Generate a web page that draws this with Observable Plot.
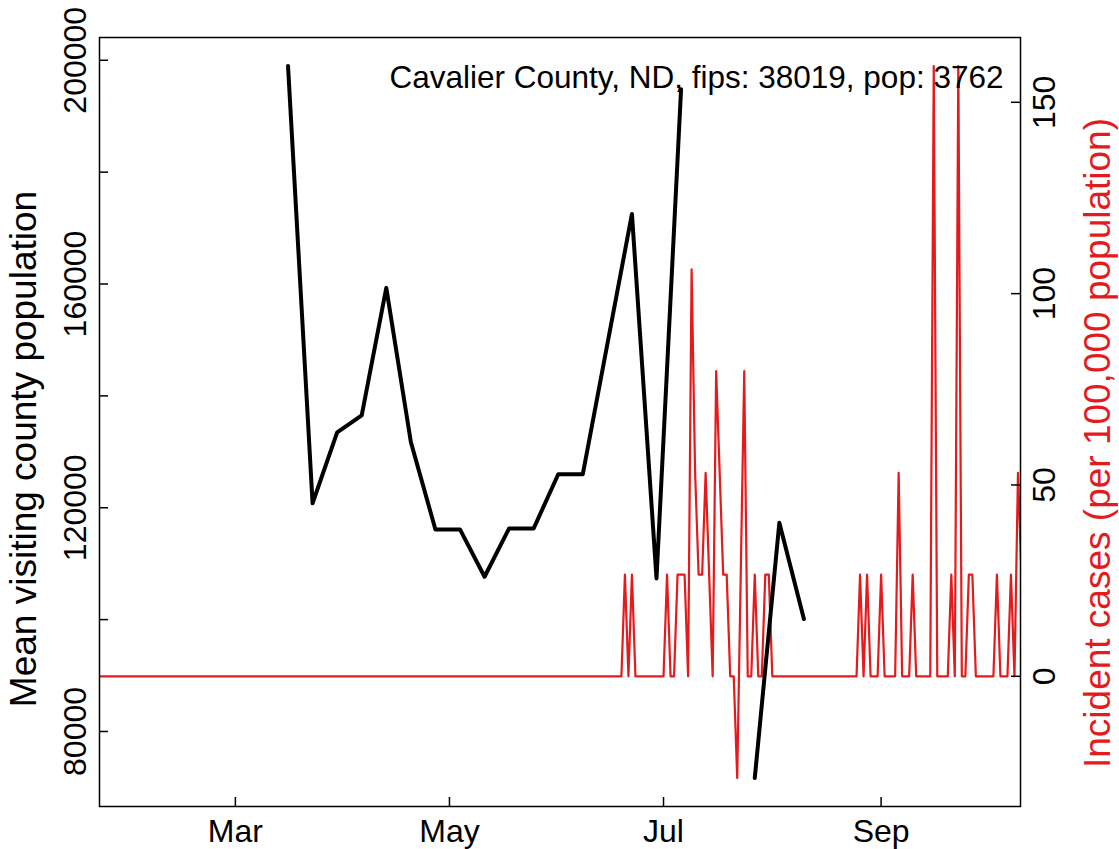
<!DOCTYPE html>
<html><head><meta charset="utf-8">
<script src="https://cdn.jsdelivr.net/npm/d3@7"></script>
<script src="https://cdn.jsdelivr.net/npm/@observablehq/plot@0.6"></script>
<style>
html,body{margin:0;padding:0;background:#fff;overflow:hidden}
#chart{position:relative;width:1119px;height:849px}
#chart svg{position:absolute;left:0;top:0}
</style></head><body><div id="chart"></div>
<script>
// ---- data ----
const titleText = "Cavalier County, ND, fips: 38019, pop: 3762";
const leftLabel = "Mean visiting county population";
const rightLabel = "Incident cases (per 100,000 population)";

// x range of the plot (padded 4% like R)
const xLimits = ["2020-02-01","2020-10-01"];

// weekly mean visiting county population (black); null = missing
const visitDates = ["2020-03-16","2020-03-23","2020-03-30","2020-04-06","2020-04-13","2020-04-20","2020-04-27",
  "2020-05-04","2020-05-11","2020-05-18","2020-05-25","2020-06-01","2020-06-08","2020-06-22","2020-06-29",
  "2020-07-06","2020-07-13","2020-07-20","2020-07-27","2020-08-03","2020-08-10"];
const visitValues = [198980,120800,133480,136520,159310,131760,116120,
  116120,107660,116300,116300,125990,125990,172520,107370,
  194820,null,null,71680,117300,100110];

// daily incident cases per 100,000 (red), starting 2020-01-22
const caseStart = "2020-01-22";
const casesJan = [0,0,0,0,0,0,0,0,0,0];
const casesFeb = [0,0,0,0,0,0,0,0,0,0,0,0,0,0,0,0,0,0,0,0,0,0,0,0,0,0,0,0,0];
const casesMar = [0,0,0,0,0,0,0,0,0,0,0,0,0,0,0,0,0,0,0,0,0,0,0,0,0,0,0,0,0,0,0];
const casesApr = [0,0,0,0,0,0,0,0,0,0,0,0,0,0,0,0,0,0,0,0,0,0,0,0,0,0,0,0,0,0];
const casesMay = [0,0,0,0,0,0,0,0,0,0,0,0,0,0,0,0,0,0,0,0,0,0,0,0,0,0,0,0,0,0,0];
const casesJun = [0,0,0,0,0,0,0,0,0,0,0,0,0,0,0,0,0,0,0,26.58,0,26.58,0,0,0,0,0,0,0,0];
const casesJul = [0,26.58,0,0,26.58,26.58,26.58,0,106.33,53.16,
  26.58,26.58,53.16,26.58,0,79.74,53.16,26.58,26.58,0,
  0,-26.58,26.58,79.74,0,0,26.58,0,0,26.58,
  26.58];
const casesAug = [0,0,0,0,0,0,0,0,0,0,0,0,0,0,0,0,0,0,0,0,0,0,0,0,0,26.58,0,26.58,0,0,0];
const casesSep = [26.58,0,0,0,0,53.16,0,0,0,26.58,
  0,0,0,0,0,159.49,0,0,0,0,
  26.58,0,159.49,0,0,26.58,26.58,0,0,0];
const casesOct = [0,0,0,26.58,0,0,0,26.58,0,53.16,26.58];

const leftTicks = [80000,100000,120000,140000,160000,180000,200000];
const leftTickLabels = [80000,120000,160000,200000];
const rightTicks = [0,50,100,150];
const xTickDates = ["2020-03-01","2020-05-01","2020-07-01","2020-09-01"];

// ---- build tables ----
const visits = visitDates.map((d,i)=>({date:new Date(d), value: visitValues[i]==null?NaN:visitValues[i]}));
const caseValues = [].concat(casesJan,casesFeb,casesMar,casesApr,casesMay,casesJun,casesJul,casesAug,casesSep,casesOct);
const start = new Date(caseStart);
const cases = caseValues.map((v,i)=>({date:d3.utcDay.offset(start,i), value:v}));
const xTicks = xTickDates.map(d=>new Date(d));

function padR(ext){const r=ext[1]-ext[0];return [ext[0]-0.04*r, ext[1]+0.04*r];}
const xl = padR(xLimits.map(d=>+new Date(d)));
const xDomain = [new Date(xl[0]), new Date(xl[1])];
const yLeft = padR(d3.extent(visits.filter(d=>!isNaN(d.value)), d=>d.value));
const yRight = padR(d3.extent(cases, d=>d.value));

const W=1119, H=849, mL=99, mR=99, mT=37, mB=43;
const pw = W-mL-mR, ph = H-mT-mB;
const FONT = "Liberation Sans, Arial, Helvetica, sans-serif";
const FS = 32, FSLAB = 37;
const RED = "#e41a1c";

const common = {width:W, height:H, marginLeft:mL, marginRight:mR, marginTop:mT, marginBottom:mB,
  x:{type:"utc", domain:xDomain, axis:null},
  style:{fontFamily:FONT, background:"transparent"}};

const redPlot = Plot.plot({
  ...common,
  y:{domain:yRight, axis:null},
  marks:[
    Plot.lineY(cases,{x:"date", y:"value", stroke:RED, strokeWidth:2.2, strokeLinejoin:"round", clip:true}),
    Plot.tickY(rightTicks,{y:d=>d, stroke:"black", strokeWidth:1.5, insetLeft:pw-9}),
    Plot.text(rightTicks,{y:d=>d, text:d=>String(d), frameAnchor:"right", dx:24, rotate:-90,
      textAnchor:"middle", lineAnchor:"middle", fontSize:FS, fill:"black"}),
    Plot.text([rightLabel],{frameAnchor:"right", dx:78, dy:21, rotate:-90, textAnchor:"middle", lineAnchor:"middle",
      fontSize:FSLAB, fill:RED})
  ]
});

const blackPlot = Plot.plot({
  ...common,
  y:{domain:yLeft, axis:null},
  marks:[
    Plot.frame({stroke:"black", strokeWidth:1.5}),
    Plot.lineY(visits,{x:"date", y:"value", stroke:"black", strokeWidth:4, strokeLinejoin:"round", strokeLinecap:"round"}),
    Plot.tickY(leftTicks,{y:d=>d, stroke:"black", strokeWidth:1.5, insetRight:pw-9}),
    Plot.tickX(xTicks,{x:d=>d, stroke:"black", strokeWidth:1.5, insetTop:ph-9}),
    Plot.text(leftTickLabels,{y:d=>d, text:d=>String(d), frameAnchor:"left", dx:-23.5, rotate:-90,
      textAnchor:"middle", lineAnchor:"middle", fontSize:FS, fill:"black"}),
    Plot.text(xTicks,{x:d=>d, text:d=>d3.utcFormat("%b")(d), frameAnchor:"bottom", dy:25,
      lineAnchor:"middle", fontSize:FS, fill:"black"}),
    Plot.text([leftLabel],{frameAnchor:"left", dx:-75, dy:27, rotate:-90, textAnchor:"middle", lineAnchor:"middle",
      fontSize:FSLAB, fill:"black"}),
    Plot.text([titleText],{frameAnchor:"top-right", dx:-17, dy:28, textAnchor:"end", lineAnchor:"top",
      fontSize:31.5, fill:"black"})
  ]
});

const el = document.getElementById("chart");
el.appendChild(redPlot);
el.appendChild(blackPlot);
</script></body></html>
